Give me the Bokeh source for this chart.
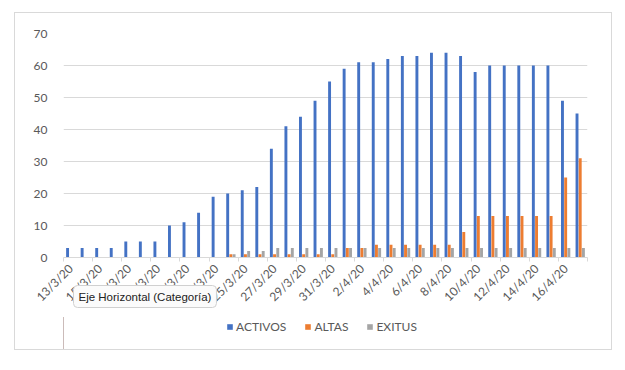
from bokeh.plotting import figure
from bokeh.layouts import column
from bokeh.models import ColumnDataSource, FixedTicker, Legend, LegendItem, Range1d, Label
from bokeh.transform import dodge
from bokeh.embed import file_html
from bokeh.resources import INLINE
import math

dates = ["13/3/20", "14/3/20", "15/3/20", "16/3/20", "17/3/20", "18/3/20", "19/3/20",
         "20/3/20", "21/3/20", "22/3/20", "23/3/20", "24/3/20", "25/3/20", "26/3/20",
         "27/3/20", "28/3/20", "29/3/20", "30/3/20", "31/3/20", "1/4/20", "2/4/20",
         "3/4/20", "4/4/20", "5/4/20", "6/4/20", "7/4/20", "8/4/20", "9/4/20",
         "10/4/20", "11/4/20", "12/4/20", "13/4/20", "14/4/20", "15/4/20", "16/4/20",
         "17/4/20"]
activos = [3, 3, 3, 3, 5, 5, 5, 10, 11, 14, 19, 20, 21, 22, 34, 41, 44, 49, 55, 59, 61,
           61, 62, 63, 63, 64, 64, 63, 58, 60, 60, 60, 60, 60, 49, 45]
altas = [0, 0, 0, 0, 0, 0, 0, 0, 0, 0, 0, 1, 1, 1, 1, 1, 1, 1, 1, 3, 3,
         4, 4, 4, 4, 4, 4, 8, 13, 13, 13, 13, 13, 13, 25, 31]
exitus = [0, 0, 0, 0, 0, 0, 0, 0, 0, 0, 0, 1, 2, 2, 3, 3, 3, 3, 3, 3, 3,
          3, 3, 3, 3, 3, 3, 3, 3, 3, 3, 3, 3, 3, 3, 3]
series_names = ["ACTIVOS", "ALTAS", "EXITUS"]
y_ticks = [0, 10, 20, 30, 40, 50, 60, 70]
axis_title = "Eje Horizontal (Categoría)"

colors = ["#4472C4", "#ED7D31", "#A5A5A5"]
text_color = "#595959"
font = "Lato"

n = len(dates)
idx = list(range(n))
src = ColumnDataSource(dict(x=idx, activos=activos, altas=altas, exitus=exitus))

p = figure(width=596, height=299,
           x_range=Range1d(-0.5, n - 0.5), y_range=Range1d(0, 70),
           output_backend="svg", toolbar_location=None,
           min_border_left=48, min_border_right=24, min_border_top=20, min_border_bottom=55,
           background_fill_color="white", border_fill_color="white")
p.margin = 0
p.outline_line_color = None

w = 0.2
off = 0.22
p.vbar(x=dodge("x", -off, range=p.x_range), top="activos", width=w, source=src,
       color=colors[0], line_color=None)
p.vbar(x=dodge("x", 0.0, range=p.x_range), top="altas", width=w, source=src,
       color=colors[1], line_color=None)
p.vbar(x=dodge("x", off, range=p.x_range), top="exitus", width=w, source=src,
       color=colors[2], line_color=None)

# y axis
p.yaxis.ticker = FixedTicker(ticks=y_ticks)
p.yaxis.axis_line_color = None
p.yaxis.major_tick_line_color = None
p.yaxis.minor_tick_line_color = None
p.yaxis.major_label_text_font = font
p.yaxis.major_label_text_font_size = "12px"
p.yaxis.major_label_text_color = text_color
p.yaxis.major_label_standoff = 10

p.ygrid.ticker = FixedTicker(ticks=y_ticks[1:])
p.ygrid.grid_line_color = "#d9d9d9"
p.xgrid.grid_line_color = None

# x axis: labels every two categories, tick marks between categories
xa = p.xaxis[0]
xa.ticker = FixedTicker(ticks=list(range(0, n, 2)),
                        minor_ticks=[i - 0.5 for i in range(0, n + 1, 2)])
xa.major_label_overrides = {i: dates[i] for i in range(0, n, 2)}
xa.axis_line_color = "#d9d9d9"
xa.major_tick_line_color = None
xa.major_tick_out = 0
xa.major_tick_in = 0
xa.minor_tick_line_color = "#d9d9d9"
xa.minor_tick_out = 4
xa.minor_tick_in = 0
xa.major_label_orientation = math.pi / 4
xa.major_label_text_font = font
xa.major_label_text_font_size = "12px"
xa.major_label_text_color = text_color
xa.major_label_standoff = 5

# lower strip (transparent, overlapping the bottom of the chart): tooltip + legend
pl = figure(width=596, height=65, x_range=Range1d(0, 1), y_range=Range1d(0, 1),
            output_backend="svg", toolbar_location=None,
            x_axis_location=None, y_axis_location=None,
            min_border=0, min_border_left=0, min_border_right=0,
            min_border_top=0, min_border_bottom=0)
pl.margin = (-28, 0, 0, 0)
pl.outline_line_color = None
pl.background_fill_alpha = 0
pl.border_fill_alpha = 0
pl.grid.visible = False

# legend proxies (kept outside the visible range of the strip)
proxy = ColumnDataSource(dict(x=[-1.0], top=[0.5]))
dummies = [pl.vbar(x="x", top="top", width=0.1, source=proxy, color=c, line_color=None)
           for c in colors]
legend = Legend(items=[LegendItem(label=s, renderers=[r]) for s, r in zip(series_names, dummies)],
                orientation="horizontal", location=(163, 15),
                glyph_width=7, glyph_height=7, label_standoff=3, spacing=18,
                padding=0, margin=0, border_line_color=None, background_fill_alpha=0,
                label_text_font=font, label_text_font_size="12px", label_text_color=text_color)
pl.add_layout(legend)

tip = Label(x=10, y=53, x_units="screen", y_units="screen", text=axis_title,
            text_font="Liberation Sans", text_font_size="11.5px", text_color="#222222",
            text_baseline="middle", background_fill_color="#fbfbfb",
            border_line_color="#d0d0d0", padding=5, border_radius=4)
pl.add_layout(tip)

layout = column(p, pl, spacing=0)
layout.margin = (12, 0, 0, 14)
layout.styles = {"border": "1px solid #d9d9d9", "background-color": "white"}

open("out.html", "w").write(file_html(layout, INLINE))
